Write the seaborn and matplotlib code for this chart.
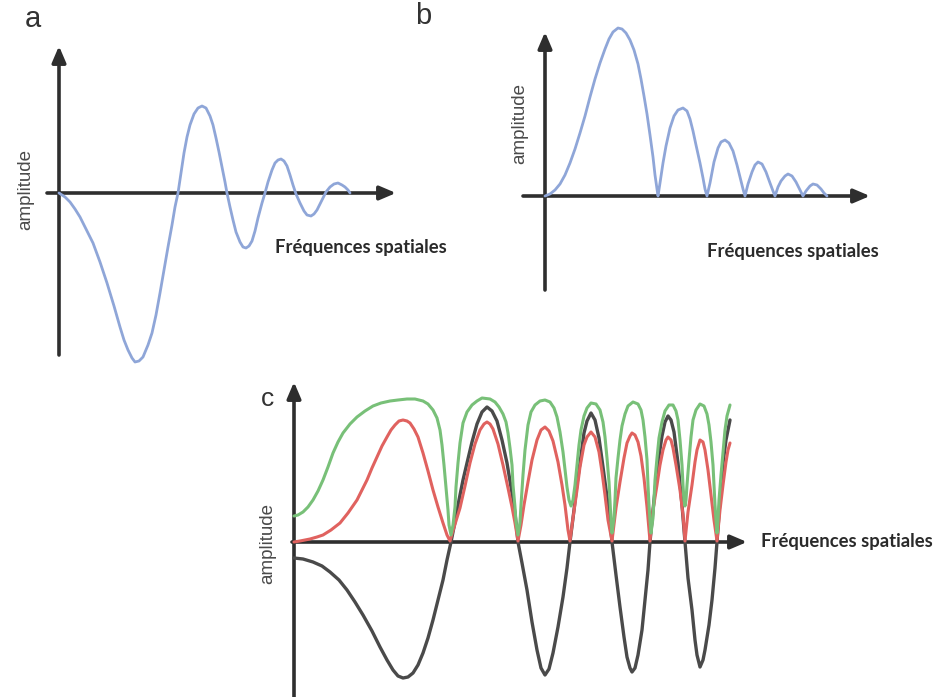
import matplotlib
matplotlib.use("Agg")
import matplotlib.pyplot as plt
import seaborn as sns
import pandas as pd

# ---------------- data (frequency, amplitude) in arbitrary units ----------------
# panel a : oscillating contrast transfer function
curve_a = [(0,0),(6,-4),(11,-9),(16,-16),(21,-24),(27,-36),(34,-50),(41,-69),(48,-90),(55,-113),
           (61,-134),(65,-147),(69,-157),(73,-165),(76,-169),(80,-168),(84,-164),(89,-152),(93,-140),
           (97,-122),(101,-100),(105,-77),(109,-54),(113,-32),(116,-14),(119,0),(122,20),(125,40),
           (128,56),(131,68),(135,79),(139,85),(143,87),(147,85),(151,77),(154,68),(157,55),(160,41),
           (163,26),(166,11),(168,0),(171,-14),(174,-27),(177,-39),(181,-49),(184,-54),(187,-55),
           (190,-53),(193,-48),(196,-38),(199,-25),(203,-10),(206,0),(209,11),(213,23),(216,30),
           (219,33),(222,34),(225,32),(228,27),(231,18),(234,8),(237,-1),(241,-10),(245,-18),(248,-22),
           (252,-23),(255,-21),(258,-17),(261,-11),(264,-5),(267,1),(271,6),(275,9),(279,10),(283,8),
           (286,6),(289,3),(291,0)]

# panel b : absolute value of the CTF
curve_b = [(0,0),(5,2),(10,6),(15,12),(20,21),(25,33),(30,47),(35,63),(40,80),(45,99),(50,117),
           (55,133),(60,147),(64,157),(68,164),(73,168),(77,167),(81,163),(85,156),(89,146),(93,132),
           (96,117),(99,100),(102,82),(105,61),(108,39),(110,21),(112,7),(113,0),(115,13),(118,33),
           (121,50),(125,68),(129,80),(133,86),(138,88),(142,85),(145,77),(148,65),(151,51),(155,33),
           (158,18),(160,7),(162,0),(165,13),(169,34),(173,48),(176,54),(180,56),(184,53),(188,45),
           (192,31),(196,15),(198,7),(200,0),(203,12),(207,24),(210,31),(213,34),(217,32),(221,24),
           (225,13),(228,5),(230,0),(233,9),(236,15),(240,20),(243,22),(247,20),(251,14),(255,6),
           (258,0),(261,5),(265,10),(268,12),(272,11),(276,7),(279,3),(282,0)]

# panel c : three curves
curve_c_black = [(0,-16),(9,-17),(19,-20),(28,-24),(36,-30),(45,-38),(53,-48),(61,-60),(69,-73),
           (78,-89),(86,-105),(93,-118),(99,-128),(104,-134),(109,-136),(114,-135),(119,-131),
           (124,-123),(129,-111),(134,-96),(139,-78),(144,-58),(149,-38),(153,-18),(157,0),(161,20),
           (165,42),(169,62),(173,79),(178,100),(183,118),(188,130),(193,135),(198,131),(203,121),
           (208,102),(213,79),(218,49),(221,29),(224,0),(228,-21),(233,-48),(238,-80),(243,-108),
           (247,-126),(251,-133),(255,-127),(259,-111),(264,-85),(269,-55),(273,-26),(276,0),(280,32),
           (283,58),(286,79),(290,109),(293,121),(297,129),(301,122),(305,104),(309,75),(313,45),
           (316,22),(318,0),(322,-33),(326,-65),(330,-95),(333,-115),(336,-126),(338,-130),(341,-126),
           (344,-113),(348,-88),(351,-58),(354,-28),(356,0),(360,42),(364,79),(368,106),(371,120),
           (374,126),(377,122),(380,110),(384,79),(388,37),(391,0),(394,-36),(398,-68),(401,-98),
           (403,-113),(406,-125),(409,-118),(411,-108),(415,-83),(418,-58),(421,-26),(423,0),(426,42),
           (429,79),(432,102),(434,112),(436,122)]

curve_c_red = [(0,0),(6,1),(16,3),(23,5),(29,7),(37,12),(46,19),(54,29),(63,42),(68,52),(73,62),
           (78,74),(83,85),(88,96),(93,105),(97,112),(101,117),(105,121),(109,122),(113,121),(116,119),
           (120,113),(124,105),(129,89),(134,71),(139,52),(144,35),(149,19),(153,7),(156,1),(158,8),
           (162,21),(166,34),(171,56),(176,79),(181,98),(186,112),(190,118),(193,120),(196,118),
           (199,113),(204,98),(209,77),(214,54),(218,35),(221,19),(224,1),(227,17),(230,37),(234,60),
           (238,82),(243,102),(247,112),(251,115),(255,111),(259,101),(264,80),(268,57),(271,37),
           (274,12),(276,1),(279,24),(283,52),(286,75),(290,97),(293,105),(297,110),(301,105),(305,90),
           (308,70),(311,47),(314,22),(318,1),(322,34),(326,60),(330,84),(333,99),(336,106),(338,109),
           (341,107),(344,100),(347,86),(350,64),(353,35),(356,1),(359,32),(363,57),(366,77),(369,92),
           (372,102),(374,105),(377,102),(379,94),(382,77),(386,52),(389,27),(391,1),(394,30),(398,57),
           (401,80),(403,92),(406,102),(409,100),(411,92),(414,72),(417,47),(420,22),(423,1),(426,32),
           (429,57),(432,80),(434,92),(436,99)]

curve_c_green = [(0,26),(4,27),(9,30),(14,35),(19,42),(24,51),(29,62),(34,75),(39,89),(44,100),
           (49,109),(56,118),(63,125),(71,131),(79,136),(87,139),(96,141),(104,142),(113,143),
           (121,143),(129,141),(134,138),(139,132),(143,124),(146,112),(148,97),(150,77),(152,55),
           (154,32),(155,17),(157,7),(159,17),(161,35),(162,55),(164,79),(166,99),(169,119),(173,130),
           (178,137),(183,141),(188,144),(196,143),(201,140),(205,135),(209,128),(212,120),(214,109),
           (216,94),(218,77),(219,57),(221,35),(222,20),(224,7),(226,20),(227,37),(229,67),(231,92),
           (234,117),(237,130),(241,137),(246,141),(251,142),(256,140),(260,134),(263,125),(266,110),
           (269,90),(271,72),(273,55),(275,42),(277,36),(279,42),(281,57),(283,77),(285,97),(287,112),
           (290,126),(293,134),(297,139),(302,138),(306,132),(309,120),(311,105),(313,84),(315,60),
           (316,42),(317,22),(318,9),(320,24),(321,42),(322,64),(324,84),(326,102),(328,116),(331,128),
           (334,136),(339,140),(344,138),(347,132),(349,122),(351,105),(353,82),(354,57),(355,37),
           (356,22),(357,9),(359,24),(360,42),(361,62),(363,84),(365,104),(368,120),(371,131),
           (375,137),(379,137),(382,131),(384,122),(386,102),(388,77),(389,57),(390,42),(391,36),
           (392,42),(393,57),(395,82),(397,105),(399,122),(402,132),(406,138),(410,136),(413,128),
           (415,117),(417,100),(419,77),(420,57),(421,37),(422,22),(423,9),(424,22),(425,42),(427,67),
           (429,90),(431,112),(433,126),(436,137)]

panel_letters = ["a", "b", "c"]
x_label = "Fréquences spatiales"
y_label = "amplitude"

# ---------------- styling / layout ----------------
sns.set_style("white")
plt.rcParams["font.family"] = ["Liberation Sans", "DejaVu Sans"]

W, H = 937, 697
fig = plt.figure(figsize=(W / 100, H / 100), dpi=100)
fig.patch.set_facecolor("white")

AXIS_COL = "#2e2e2e"
BLUE = "#8fa6d8"
BLACK = "#4a4a4a"
RED = "#e0625f"
GREEN = "#78c078"


def make_axes(box, origin):
    l, t, r, b = box
    ox, oy = origin
    ax = fig.add_axes([l / W, 1 - b / H, (r - l) / W, (b - t) / H])
    ax.set_xlim(l - ox, r - ox)
    ax.set_ylim(oy - b, oy - t)
    ax.axis("off")
    return ax


def draw_axes(ax, origin, x_from, x_tip, y_from, y_tip):
    ox, oy = origin
    props = dict(arrowstyle="-|>,head_length=0.75,head_width=0.32", lw=2.6,
                 color=AXIS_COL, shrinkA=0, shrinkB=0, mutation_scale=13)
    ax.annotate("", xy=(x_tip - ox, 0), xytext=(x_from - ox, 0), arrowprops=props,
                annotation_clip=False, zorder=1)
    ax.annotate("", xy=(0, oy - y_tip), xytext=(0, oy - y_from), arrowprops=props,
                annotation_clip=False, zorder=1)


def draw_curve(ax, pts, color, lw, z):
    df = pd.DataFrame(pts, columns=["freq", "amp"])
    n0 = len(ax.lines)
    sns.lineplot(data=df, x="freq", y="amp", ax=ax, color=color, linewidth=lw,
                 sort=False, estimator=None, zorder=z)
    for ln in ax.lines[n0:]:
        ln.set_clip_on(False)
        ln.set_solid_joinstyle("round")
        ln.set_solid_capstyle("round")


def ftext(x, y, s, **kw):
    fig.text(x / W, 1 - y / H, s, **kw)


# panel a
oa = (59, 193)
ax_a = make_axes((40, 40, 405, 370), oa)
draw_axes(ax_a, oa, 47, 396, 355, 46)
draw_curve(ax_a, curve_a, BLUE, 2.0, 3)

# panel b
ob = (545, 196)
ax_b = make_axes((515, 20, 880, 300), ob)
draw_axes(ax_b, ob, 523, 870, 290, 32)
draw_curve(ax_b, curve_b, BLUE, 2.0, 3)

# panel c
oc = (294, 542)
ax_c = make_axes((285, 375, 755, 697), oc)
draw_axes(ax_c, oc, 292, 747, 697, 382)
draw_curve(ax_c, curve_c_black, BLACK, 2.4, 3)
draw_curve(ax_c, curve_c_red, RED, 2.2, 4)
draw_curve(ax_c, curve_c_green, GREEN, 2.2, 5)

# texts
ftext(33, 19, panel_letters[0], fontsize=21, color="#333333", ha="center", va="center")
ftext(423, 16, panel_letters[1], fontsize=21, color="#333333", ha="center", va="center")
ftext(268, 399, panel_letters[2], fontsize=19, color="#333333", ha="center", va="center")

for (x, y) in [(26, 189), (520, 123), (268, 543)]:
    ftext(x, y, y_label, fontsize=13.5, color="#4a4a4a", rotation=90, ha="center", va="center")

lab_kw = dict(fontsize=13.3, fontweight="bold", color="#2a2a2a", ha="left", va="center",
              family=["Lato", "DejaVu Sans"])
ftext(275, 248, x_label, **lab_kw)
ftext(707, 252, x_label, **lab_kw)
ftext(761, 542, x_label, **lab_kw)

fig.savefig("out.png", dpi=100, facecolor="white")
